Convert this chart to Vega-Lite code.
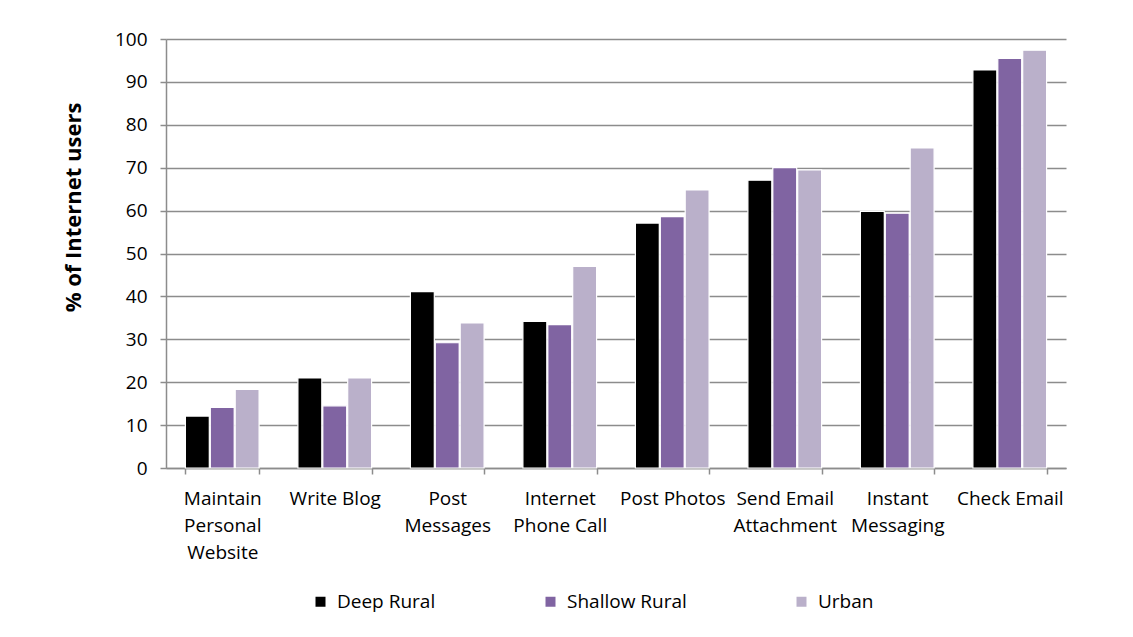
{
  "$schema": "https://vega.github.io/schema/vega-lite/v6.json",
  "width": 900,
  "height": 429,
  "autosize": {"type": "none"},
  "padding": {"left": 166, "top": 39, "right": 67, "bottom": 169},
  "background": "white",
  "config": {
    "font": "Open Sans",
    "view": {"stroke": null},
    "axis": {"labelFont": "Open Sans", "titleFont": "Open Sans", "labelColor": "#000000", "titleColor": "#000000"}
  },
  "data": {
    "values": [
      {"task": "Maintain Personal Website", "group": "Deep Rural", "pct": 12.1},
      {"task": "Maintain Personal Website", "group": "Shallow Rural", "pct": 14.1},
      {"task": "Maintain Personal Website", "group": "Urban", "pct": 18.3},
      {"task": "Write Blog", "group": "Deep Rural", "pct": 21.0},
      {"task": "Write Blog", "group": "Shallow Rural", "pct": 14.5},
      {"task": "Write Blog", "group": "Urban", "pct": 21.0},
      {"task": "Post Messages", "group": "Deep Rural", "pct": 41.1},
      {"task": "Post Messages", "group": "Shallow Rural", "pct": 29.2},
      {"task": "Post Messages", "group": "Urban", "pct": 33.8},
      {"task": "Internet Phone Call", "group": "Deep Rural", "pct": 34.2},
      {"task": "Internet Phone Call", "group": "Shallow Rural", "pct": 33.4},
      {"task": "Internet Phone Call", "group": "Urban", "pct": 47.0},
      {"task": "Post Photos", "group": "Deep Rural", "pct": 57.1},
      {"task": "Post Photos", "group": "Shallow Rural", "pct": 58.6},
      {"task": "Post Photos", "group": "Urban", "pct": 64.8},
      {"task": "Send Email Attachment", "group": "Deep Rural", "pct": 67.1},
      {"task": "Send Email Attachment", "group": "Shallow Rural", "pct": 70.0},
      {"task": "Send Email Attachment", "group": "Urban", "pct": 69.5},
      {"task": "Instant Messaging", "group": "Deep Rural", "pct": 59.8},
      {"task": "Instant Messaging", "group": "Shallow Rural", "pct": 59.4},
      {"task": "Instant Messaging", "group": "Urban", "pct": 74.6},
      {"task": "Check Email", "group": "Deep Rural", "pct": 92.8},
      {"task": "Check Email", "group": "Shallow Rural", "pct": 95.5},
      {"task": "Check Email", "group": "Urban", "pct": 97.4}
    ]
  },
  "mark": {"type": "bar", "stroke": "white", "strokeWidth": 1.2},
  "encoding": {
    "x": {
      "field": "task",
      "type": "nominal",
      "sort": null,
      "scale": {"paddingInner": 0.345, "paddingOuter": 0.1725},
      "axis": {
        "title": null,
        "labelAngle": 0,
        "labelFontSize": 19,
        "labelLineHeight": 27.3,
        "labelPadding": 15,
        "labelBaseline": "top",
        "labelExpr": "datum.label == 'Maintain Personal Website' ? ['Maintain', 'Personal', 'Website'] : datum.label == 'Post Messages' ? ['Post', 'Messages'] : datum.label == 'Internet Phone Call' ? ['Internet', 'Phone Call'] : datum.label == 'Send Email Attachment' ? ['Send Email', 'Attachment'] : datum.label == 'Instant Messaging' ? ['Instant', 'Messaging'] : datum.label",
        "tickBand": "extent",
        "tickSize": 6,
        "tickColor": "#8c8c8c",
        "tickWidth": 1.5,
        "domainColor": "#8c8c8c",
        "domainWidth": 1.5,
        "labelLimit": 0
      }
    },
    "xOffset": {"field": "group", "type": "nominal", "scale": {"paddingInner": 0.04}},
    "y": {
      "field": "pct",
      "type": "quantitative",
      "scale": {"domain": [0, 100], "nice": false},
      "axis": {
        "title": "% of Internet users",
        "titleFontSize": 22,
        "titleFontWeight": "bold",
        "titlePadding": 29,
        "titleY": 168,
        "values": [0, 10, 20, 30, 40, 50, 60, 70, 80, 90, 100],
        "labelFontSize": 19,
        "labelPadding": 13,
        "tickSize": 6,
        "tickColor": "#8c8c8c",
        "tickWidth": 1.5,
        "domainColor": "#8c8c8c",
        "domainWidth": 1.5,
        "grid": true,
        "gridColor": "#8c8c8c",
        "gridWidth": 1.5
      }
    },
    "color": {
      "field": "group",
      "type": "nominal",
      "scale": {"domain": ["Deep Rural", "Shallow Rural", "Urban"], "range": ["#000000", "#8064A2", "#BAB0CA"]},
      "legend": {
        "title": null,
        "orient": "none",
        "direction": "horizontal",
        "legendX": 145,
        "legendY": 553,
        "symbolType": "square",
        "symbolSize": 100,
        "symbolStrokeWidth": 0,
        "labelFontSize": 19,
        "labelFont": "Open Sans",
        "labelColor": "#000000",
        "labelOffset": 7,
        "columnPadding": 105
      }
    }
  }
}
